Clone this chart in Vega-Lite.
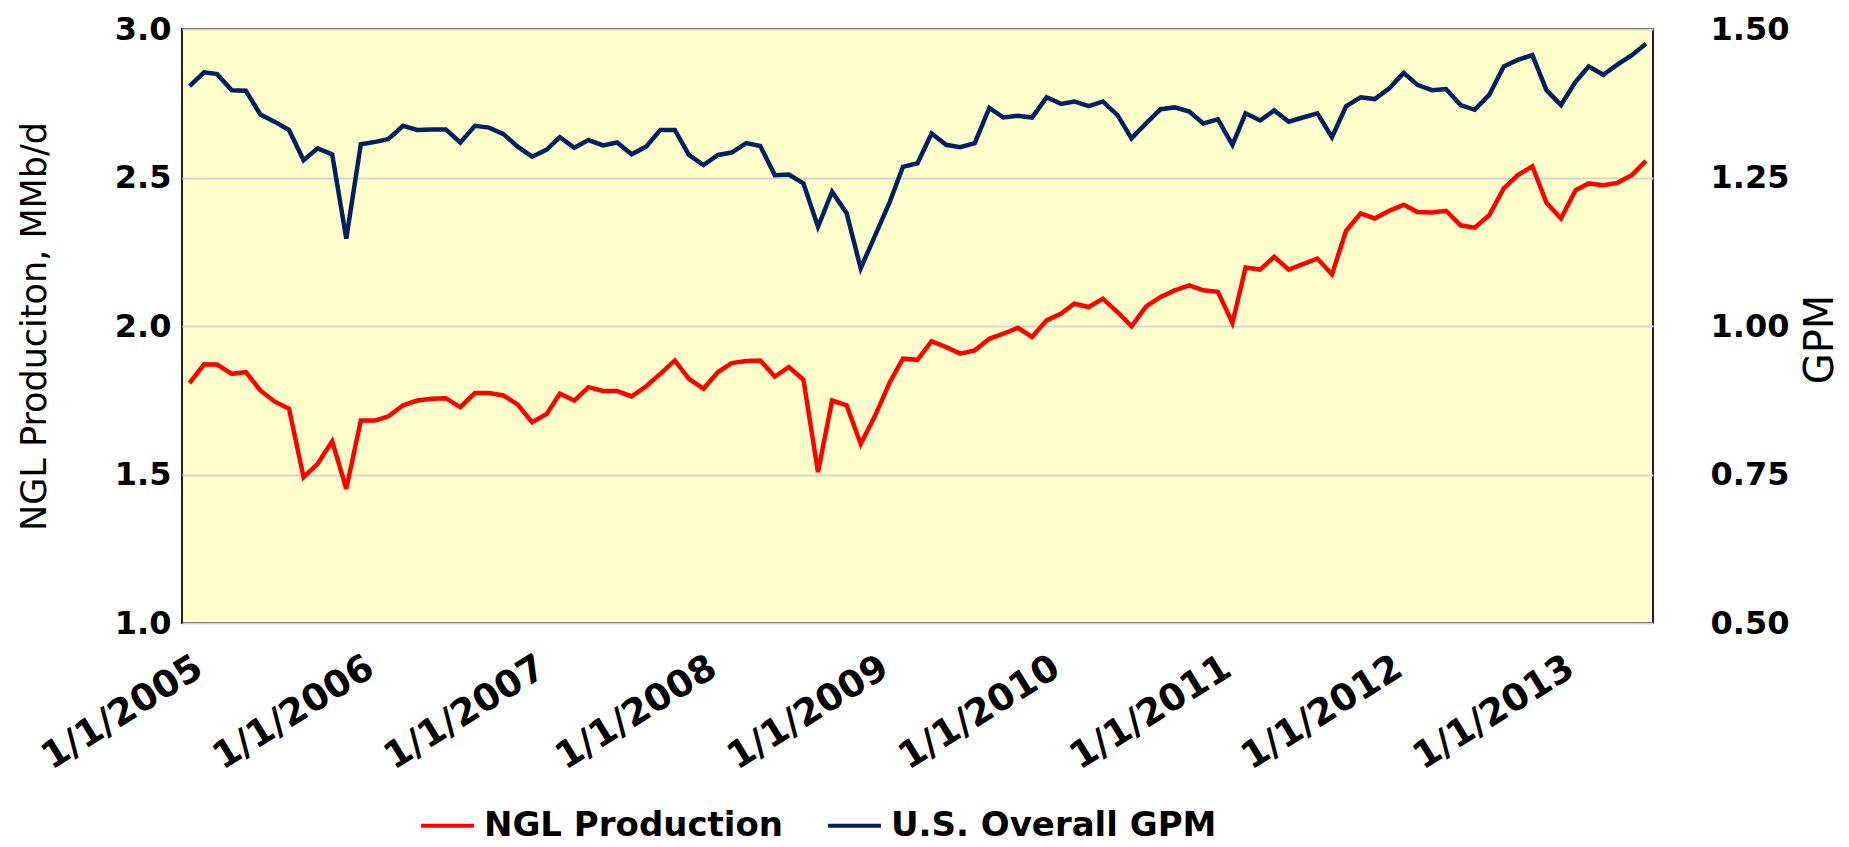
{
  "$schema": "https://vega.github.io/schema/vega-lite/v6.json",
  "width": 1471,
  "height": 594,
  "autosize": {"type": "none"},
  "padding": {"left": 182, "top": 29, "right": 196, "bottom": 224},
  "background": "white",
  "config": {
    "view": {"fill": "#ffffcc", "stroke": "#222222", "strokeWidth": 2},
    "font": "DejaVu Sans"
  },
  "data": {"values": [
    {"date": "2005/01/01", "ngl": 1.808, "gpm": 1.404},
    {"date": "2005/02/01", "ngl": 1.871, "gpm": 1.427},
    {"date": "2005/03/01", "ngl": 1.870, "gpm": 1.424},
    {"date": "2005/04/01", "ngl": 1.839, "gpm": 1.397},
    {"date": "2005/05/01", "ngl": 1.845, "gpm": 1.396},
    {"date": "2005/06/01", "ngl": 1.783, "gpm": 1.356},
    {"date": "2005/07/01", "ngl": 1.746, "gpm": 1.344},
    {"date": "2005/08/01", "ngl": 1.721, "gpm": 1.330},
    {"date": "2005/09/01", "ngl": 1.491, "gpm": 1.279},
    {"date": "2005/10/01", "ngl": 1.536, "gpm": 1.299},
    {"date": "2005/11/01", "ngl": 1.612, "gpm": 1.289},
    {"date": "2005/12/01", "ngl": 1.452, "gpm": 1.147},
    {"date": "2006/01/01", "ngl": 1.682, "gpm": 1.306},
    {"date": "2006/02/01", "ngl": 1.682, "gpm": 1.310},
    {"date": "2006/03/01", "ngl": 1.696, "gpm": 1.315},
    {"date": "2006/04/01", "ngl": 1.733, "gpm": 1.337},
    {"date": "2006/05/01", "ngl": 1.749, "gpm": 1.330},
    {"date": "2006/06/01", "ngl": 1.755, "gpm": 1.331},
    {"date": "2006/07/01", "ngl": 1.757, "gpm": 1.331},
    {"date": "2006/08/01", "ngl": 1.727, "gpm": 1.309},
    {"date": "2006/09/01", "ngl": 1.774, "gpm": 1.337},
    {"date": "2006/10/01", "ngl": 1.774, "gpm": 1.334},
    {"date": "2006/11/01", "ngl": 1.766, "gpm": 1.323},
    {"date": "2006/12/01", "ngl": 1.736, "gpm": 1.302},
    {"date": "2007/01/01", "ngl": 1.676, "gpm": 1.285},
    {"date": "2007/02/01", "ngl": 1.704, "gpm": 1.297},
    {"date": "2007/03/01", "ngl": 1.772, "gpm": 1.318},
    {"date": "2007/04/01", "ngl": 1.749, "gpm": 1.300},
    {"date": "2007/05/01", "ngl": 1.794, "gpm": 1.313},
    {"date": "2007/06/01", "ngl": 1.781, "gpm": 1.304},
    {"date": "2007/07/01", "ngl": 1.781, "gpm": 1.309},
    {"date": "2007/08/01", "ngl": 1.763, "gpm": 1.289},
    {"date": "2007/09/01", "ngl": 1.797, "gpm": 1.302},
    {"date": "2007/10/01", "ngl": 1.839, "gpm": 1.330},
    {"date": "2007/11/01", "ngl": 1.884, "gpm": 1.330},
    {"date": "2007/12/01", "ngl": 1.822, "gpm": 1.288},
    {"date": "2008/01/01", "ngl": 1.789, "gpm": 1.271},
    {"date": "2008/02/01", "ngl": 1.845, "gpm": 1.288},
    {"date": "2008/03/01", "ngl": 1.875, "gpm": 1.292},
    {"date": "2008/04/01", "ngl": 1.882, "gpm": 1.308},
    {"date": "2008/05/01", "ngl": 1.884, "gpm": 1.303},
    {"date": "2008/06/01", "ngl": 1.830, "gpm": 1.254},
    {"date": "2008/07/01", "ngl": 1.862, "gpm": 1.255},
    {"date": "2008/08/01", "ngl": 1.819, "gpm": 1.240},
    {"date": "2008/09/01", "ngl": 1.508, "gpm": 1.167},
    {"date": "2008/10/01", "ngl": 1.749, "gpm": 1.226},
    {"date": "2008/11/01", "ngl": 1.733, "gpm": 1.190},
    {"date": "2008/12/01", "ngl": 1.603, "gpm": 1.097},
    {"date": "2009/01/01", "ngl": 1.699, "gpm": 1.153},
    {"date": "2009/02/01", "ngl": 1.811, "gpm": 1.209},
    {"date": "2009/03/01", "ngl": 1.890, "gpm": 1.268},
    {"date": "2009/04/01", "ngl": 1.886, "gpm": 1.274},
    {"date": "2009/05/01", "ngl": 1.949, "gpm": 1.324},
    {"date": "2009/06/01", "ngl": 1.929, "gpm": 1.305},
    {"date": "2009/07/01", "ngl": 1.907, "gpm": 1.301},
    {"date": "2009/08/01", "ngl": 1.918, "gpm": 1.308},
    {"date": "2009/09/01", "ngl": 1.957, "gpm": 1.367},
    {"date": "2009/10/01", "ngl": 1.974, "gpm": 1.351},
    {"date": "2009/11/01", "ngl": 1.994, "gpm": 1.354},
    {"date": "2009/12/01", "ngl": 1.963, "gpm": 1.351},
    {"date": "2010/01/01", "ngl": 2.019, "gpm": 1.385},
    {"date": "2010/02/01", "ngl": 2.042, "gpm": 1.374},
    {"date": "2010/03/01", "ngl": 2.075, "gpm": 1.378},
    {"date": "2010/04/01", "ngl": 2.064, "gpm": 1.370},
    {"date": "2010/05/01", "ngl": 2.092, "gpm": 1.378},
    {"date": "2010/06/01", "ngl": 2.047, "gpm": 1.355},
    {"date": "2010/07/01", "ngl": 1.999, "gpm": 1.316},
    {"date": "2010/08/01", "ngl": 2.066, "gpm": 1.341},
    {"date": "2010/09/01", "ngl": 2.098, "gpm": 1.365},
    {"date": "2010/10/01", "ngl": 2.120, "gpm": 1.368},
    {"date": "2010/11/01", "ngl": 2.137, "gpm": 1.361},
    {"date": "2010/12/01", "ngl": 2.120, "gpm": 1.341},
    {"date": "2011/01/01", "ngl": 2.115, "gpm": 1.348},
    {"date": "2011/02/01", "ngl": 2.010, "gpm": 1.305},
    {"date": "2011/03/01", "ngl": 2.197, "gpm": 1.358},
    {"date": "2011/04/01", "ngl": 2.190, "gpm": 1.346},
    {"date": "2011/05/01", "ngl": 2.233, "gpm": 1.363},
    {"date": "2011/06/01", "ngl": 2.190, "gpm": 1.344},
    {"date": "2011/07/01", "ngl": 2.208, "gpm": 1.351},
    {"date": "2011/08/01", "ngl": 2.227, "gpm": 1.358},
    {"date": "2011/09/01", "ngl": 2.174, "gpm": 1.318},
    {"date": "2011/10/01", "ngl": 2.320, "gpm": 1.370},
    {"date": "2011/11/01", "ngl": 2.379, "gpm": 1.385},
    {"date": "2011/12/01", "ngl": 2.362, "gpm": 1.382},
    {"date": "2012/01/01", "ngl": 2.388, "gpm": 1.400},
    {"date": "2012/02/01", "ngl": 2.408, "gpm": 1.426},
    {"date": "2012/03/01", "ngl": 2.384, "gpm": 1.406},
    {"date": "2012/04/01", "ngl": 2.382, "gpm": 1.397},
    {"date": "2012/05/01", "ngl": 2.388, "gpm": 1.399},
    {"date": "2012/06/01", "ngl": 2.339, "gpm": 1.372},
    {"date": "2012/07/01", "ngl": 2.331, "gpm": 1.364},
    {"date": "2012/08/01", "ngl": 2.373, "gpm": 1.389},
    {"date": "2012/09/01", "ngl": 2.463, "gpm": 1.437},
    {"date": "2012/10/01", "ngl": 2.508, "gpm": 1.448},
    {"date": "2012/11/01", "ngl": 2.538, "gpm": 1.456},
    {"date": "2012/12/01", "ngl": 2.415, "gpm": 1.397},
    {"date": "2013/01/01", "ngl": 2.362, "gpm": 1.372},
    {"date": "2013/02/01", "ngl": 2.457, "gpm": 1.411},
    {"date": "2013/03/01", "ngl": 2.480, "gpm": 1.437},
    {"date": "2013/04/01", "ngl": 2.474, "gpm": 1.423},
    {"date": "2013/05/01", "ngl": 2.482, "gpm": 1.440},
    {"date": "2013/06/01", "ngl": 2.508, "gpm": 1.456},
    {"date": "2013/07/01", "ngl": 2.556, "gpm": 1.475}
  ]},
  "encoding": {
    "x": {
      "field": "date",
      "type": "temporal",
      "scale": {"domain": [{"year": 2004, "month": 12, "date": 16}, {"year": 2013, "month": 7, "date": 16}]},
      "axis": {
        "title": null,
        "values": [
          {"year": 2005, "month": 1, "date": 1},
          {"year": 2006, "month": 1, "date": 1},
          {"year": 2007, "month": 1, "date": 1},
          {"year": 2008, "month": 1, "date": 1},
          {"year": 2009, "month": 1, "date": 1},
          {"year": 2010, "month": 1, "date": 1},
          {"year": 2011, "month": 1, "date": 1},
          {"year": 2012, "month": 1, "date": 1},
          {"year": 2013, "month": 1, "date": 1}
        ],
        "format": "%-m/%-d/%Y",
        "labelAngle": -32,
        "labelAlign": "right",
        "labelBaseline": "top",
        "labelPadding": 26,
        "labelLimit": 500,
        "labelFont": "DejaVu Sans",
        "labelFontSize": 37,
        "labelFontWeight": "bold",
        "labelColor": "#000000",
        "labelOverlap": false,
        "labelBound": false,
        "labelFlush": false,
        "ticks": false,
        "domain": false,
        "grid": false
      }
    }
  },
  "layer": [
    {
      "mark": {"type": "line", "strokeWidth": 4.5},
      "encoding": {
        "y": {
          "field": "ngl",
          "type": "quantitative",
          "scale": {"domain": [1, 3], "nice": false, "zero": false},
          "axis": {
            "orient": "left",
            "title": "NGL Produciton, MMb/d",
            "titleFont": "DejaVu Sans",
            "titleFontSize": 35,
            "titleFontWeight": "normal",
            "titleColor": "#000000",
            "titlePadding": 62,
            "values": [1, 1.5, 2, 2.5, 3],
            "format": ".1f",
            "labelFont": "DejaVu Sans",
            "labelFontSize": 32,
            "labelFontWeight": "bold",
            "labelColor": "#000000",
            "labelPadding": 11,
            "ticks": false,
            "domain": false,
            "grid": true,
            "gridColor": "#d6d6d0",
            "gridWidth": 2
          }
        },
        "color": {
          "datum": "NGL Production",
          "type": "nominal",
          "scale": {"domain": ["NGL Production", "U.S. Overall GPM"], "range": ["#ff0000", "#002060"]},
          "legend": {
            "orient": "none",
            "legendX": 237,
            "legendY": 768,
            "direction": "horizontal",
            "columns": 2,
            "title": null,
            "padding": 0,
            "symbolType": "stroke",
            "symbolSize": 2800,
            "symbolStrokeWidth": 4,
            "labelFont": "DejaVu Sans",
            "labelFontSize": 34,
            "labelFontWeight": "bold",
            "labelColor": "#000000",
            "labelOffset": 8,
            "labelLimit": 800,
            "columnPadding": 36
          }
        }
      }
    },
    {
      "mark": {"type": "line", "strokeWidth": 4.5},
      "encoding": {
        "y": {
          "field": "gpm",
          "type": "quantitative",
          "scale": {"domain": [0.5, 1.5], "nice": false, "zero": false},
          "axis": {
            "orient": "right",
            "title": "GPM",
            "titleFont": "DejaVu Sans",
            "titleFontSize": 40,
            "titleFontWeight": "normal",
            "titleColor": "#000000",
            "titleAngle": 270,
            "titleBaseline": "top",
            "titlePadding": 12,
            "titleY": 310,
            "values": [0.5, 0.75, 1, 1.25, 1.5],
            "format": ".2f",
            "labelFont": "DejaVu Sans",
            "labelFontSize": 32,
            "labelFontWeight": "bold",
            "labelColor": "#000000",
            "labelPadding": 57,
            "ticks": false,
            "domain": false,
            "grid": false
          }
        },
        "color": {"datum": "U.S. Overall GPM", "type": "nominal"}
      }
    }
  ],
  "resolve": {"scale": {"y": "independent"}}
}
